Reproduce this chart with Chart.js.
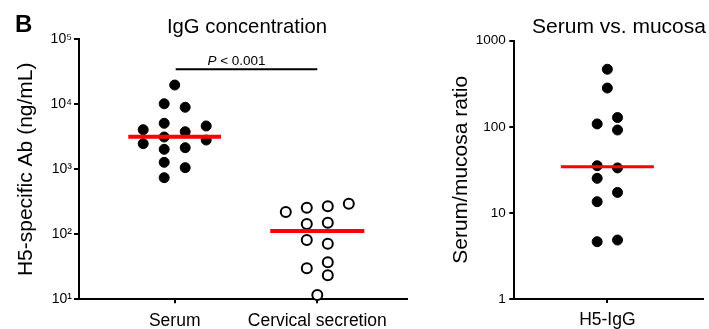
<!DOCTYPE html>
<html><head><meta charset="utf-8">
<script src="https://cdn.jsdelivr.net/npm/chart.js@4"></script>
<style>
html,body{margin:0;padding:0;background:#fff;width:709px;height:329px;overflow:hidden}
#c1{position:absolute;left:0;top:0}
#c2{position:absolute;left:420px;top:0}
</style></head><body>
<canvas id="c1" width="420" height="329"></canvas>
<canvas id="c2" width="289" height="329"></canvas>
<script>
// ---- data ----
const groups = ['Serum', 'Cervical secretion'];
const serumIgG = [19800, 10200, 9000, 5100, 4640, 4070, 3780, 3140, 2820, 2480, 2150, 2030, 1280, 1060, 743];
const serumCols = [0, -0.5, 0.5, -0.5, 1.5, -1.5, 0.5, -0.5, 1.5, -1.5, 0.5, -0.5, -0.5, 0.5, -0.5];
const cervicalIgG = [295, 269, 256, 220, 151, 144, 81.7, 71.6, 37, 30, 23.4, 11.6];
const cervicalCols = [1.5, 0.5, -0.5, -1.5, 0.5, -0.5, -0.5, 0.5, 0.5, -0.5, 0.5, 0];
const medians = [3160, 112];
const bracketValue = 34500;
const pLabel = '< 0.001';
const leftTicks = [10, 100, 1000, 10000, 100000];
const leftTickLabels = ['10\u00B9', '10\u00B2', '10\u00B3', '10\u2074', '10\u2075'];

const ratioCategory = ['H5-IgG'];
const ratioValues = [466, 282, 128, 108, 91.8, 35.3, 33.3, 25.2, 17.3, 13.5, 4.84, 4.63];
const ratioCols = [0, 0, 0.5, -0.5, 0.5, -0.5, 0.5, -0.5, 0.5, -0.5, 0.5, -0.5];
const ratioMedian = 34.4;
const rightTicks = [1, 10, 100, 1000];
const rightTickLabels = ['1', '10', '100', '1000'];

// ---- helpers ----
const FONT = "'Liberation Sans', Arial, Helvetica, sans-serif";
function pts(vals, cols, cat, step) { return vals.map((v, i) => ({x: cat + cols[i] * step, y: v})); }
function hline(cat, half, v) { return [{x: cat - half, y: v}, {x: cat + half, y: v}]; }
const gridOpts = {drawOnChartArea: false, drawTicks: true, color: '#000', lineWidth: 2};
const borderOpts = {display: true, color: '#000', width: 2};

// ---- left chart ----
const stepL = 21 / 142.6;
const leftText = {
  id: 'leftText',
  afterDraw(chart) {
    const ctx = chart.ctx, sx = chart.scales.x, sy = chart.scales.y;
    ctx.save();
    ctx.fillStyle = '#000';
    ctx.textBaseline = 'alphabetic';
    ctx.textAlign = 'left';
    ctx.font = 'bold 24px ' + FONT;
    ctx.fillText('B', 15, 32);
    ctx.textAlign = 'center';
    ctx.font = '20.3px ' + FONT;
    ctx.fillText('IgG concentration', 247, 33);
    // P value label above bracket
    const by = sy.getPixelForValue(bracketValue);
    const cx = (sx.getPixelForValue(1) + sx.getPixelForValue(2)) / 2 - 9.5;
    ctx.font = 'italic 13.5px ' + FONT;
    const wP = ctx.measureText('P ').width;
    ctx.font = '13.5px ' + FONT;
    const wR = ctx.measureText(pLabel).width;
    const x0 = cx - (wP + wR) / 2;
    ctx.textAlign = 'left';
    ctx.font = 'italic 13.5px ' + FONT;
    ctx.fillText('P', x0, by - 4.5);
    ctx.font = '13.5px ' + FONT;
    ctx.fillText(pLabel, x0 + wP, by - 4.5);
    ctx.restore();
  }
};

new Chart(document.getElementById('c1'), {
  type: 'scatter',
  data: {
    datasets: [
      {data: hline(1, 0.325, medians[0]), showLine: true, borderColor: '#ff0000', borderWidth: 4, pointRadius: 0, clip: false},
      {data: hline(2, 0.33, medians[1]), showLine: true, borderColor: '#ff0000', borderWidth: 4, pointRadius: 0, clip: false},
      {data: [{x: 1.007, y: bracketValue}, {x: 2, y: bracketValue}], showLine: true, borderColor: '#000', borderWidth: 2, pointRadius: 0, clip: false},
      {data: pts(serumIgG, serumCols, 1, stepL), pointRadius: 5, pointBorderWidth: 1, pointBackgroundColor: '#000', pointBorderColor: '#000', clip: false},
      {data: pts(cervicalIgG, cervicalCols, 2, stepL), pointRadius: 5, pointBorderWidth: 2, pointBackgroundColor: '#fff', pointBorderColor: '#000', clip: false}
    ]
  },
  options: {
    responsive: false, animation: false, devicePixelRatio: 1,
    layout: {padding: {top: 39.3, right: 13, left: 0, bottom: 0}},
    plugins: {legend: {display: false}, tooltip: {enabled: false}},
    scales: {
      x: {
        type: 'linear', min: 0.329, max: 2.629,
        afterBuildTicks: s => { s.ticks = [{value: 1}, {value: 2}]; },
        afterFit: s => { s.height = 29.7; },
        ticks: {callback: v => groups[Math.round(v) - 1], font: {family: FONT, size: 17.5}, color: '#000', padding: 7, maxRotation: 0, autoSkip: false},
        grid: Object.assign({tickLength: 4}, gridOpts),
        border: borderOpts
      },
      y: {
        type: 'logarithmic', min: 10, max: 100000,
        afterBuildTicks: s => { s.ticks = leftTicks.map(v => ({value: v})); },
        afterFit: s => { s.width = 79; },
        ticks: {callback: (v, i) => leftTickLabels[leftTicks.indexOf(v)], font: {family: FONT, size: 14}, color: '#000', padding: 2, autoSkip: false},
        grid: Object.assign({tickLength: 5}, gridOpts),
        border: borderOpts,
        title: {display: true, text: 'H5-specific Ab (ng/mL)', font: {family: FONT, size: 21}, color: '#000', padding: {top: 14, bottom: 0}}
      }
    }
  },
  plugins: [leftText]
});

// ---- right chart ----
const stepR = 21 / 192;
const rightText = {
  id: 'rightText',
  afterDraw(chart) {
    const ctx = chart.ctx;
    ctx.save();
    ctx.fillStyle = '#000';
    ctx.textBaseline = 'alphabetic';
    ctx.textAlign = 'center';
    ctx.font = '21px ' + FONT;
    ctx.fillText('Serum vs. mucosa', 199, 33);
    ctx.restore();
  }
};

new Chart(document.getElementById('c2'), {
  type: 'scatter',
  data: {
    datasets: [
      {data: hline(1, 0.25, ratioMedian), showLine: true, borderColor: '#ff0000', borderWidth: 3, pointRadius: 0, clip: false},
      {data: pts(ratioValues, ratioCols, 1, stepR), pointRadius: 5, pointBorderWidth: 1, pointBackgroundColor: '#000', pointBorderColor: '#000', clip: false}
    ]
  },
  options: {
    responsive: false, animation: false, devicePixelRatio: 1,
    layout: {padding: {top: 40.7, right: 0, left: 0, bottom: 0}},
    plugins: {legend: {display: false}, tooltip: {enabled: false}},
    scales: {
      x: {
        type: 'linear', min: 0.5, max: 0.5 + 194.7 / 192,
        afterBuildTicks: s => { s.ticks = [{value: 1}]; },
        afterFit: s => { s.height = 30; },
        ticks: {callback: v => ratioCategory[Math.round(v) - 1], font: {family: FONT, size: 17.5}, color: '#000', padding: 7, maxRotation: 0, autoSkip: false},
        grid: Object.assign({tickLength: 4}, gridOpts),
        border: borderOpts
      },
      y: {
        type: 'logarithmic', min: 1, max: 1000,
        afterBuildTicks: s => { s.ticks = rightTicks.map(v => ({value: v})); },
        afterFit: s => { s.width = 94.3; },
        ticks: {callback: v => rightTickLabels[rightTicks.indexOf(v)], font: {family: FONT, size: 13.5}, color: '#000', padding: 3.5, autoSkip: false},
        grid: Object.assign({tickLength: 5}, gridOpts),
        border: borderOpts,
        title: {display: true, text: 'Serum/mucosa ratio', font: {family: FONT, size: 21}, color: '#000', padding: {top: 28.4, bottom: 0}}
      }
    }
  },
  plugins: [rightText]
});
</script>
</body></html>
